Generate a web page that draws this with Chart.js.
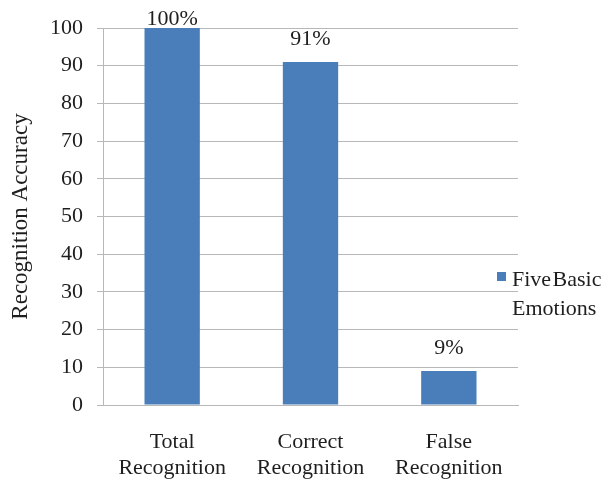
<!DOCTYPE html>
<html>
<head>
<meta charset="utf-8">
<script src="https://cdn.jsdelivr.net/npm/chart.js@4/dist/chart.umd.min.js"></script>
<style>
  html, body { margin: 0; padding: 0; background: #ffffff; }
  #wrap { width: 604px; height: 480px; }
</style>
</head>
<body>
<div id="wrap"><canvas id="chart" width="604" height="480"></canvas></div>
<script>
// Recognition results for the five basic emotions
const categories = [["Total", "Recognition"], ["Correct", "Recognition"], ["False", "Recognition"]];
const accuracy = [100, 91, 9];
const seriesName = "Five Basic Emotions";
const legendLines = ["Five Basic", "Emotions"];
const yTicks = [0, 10, 20, 30, 40, 50, 60, 70, 80, 90, 100];

const SERIF = "'Liberation Serif', 'Times New Roman', serif";
const BAR_BLUE = "#4a7ebb";
const GRID_GREY = "#b8b8b8";
const TEXT_DARK = "#1e1e1e";

// Percentage labels above each bar
const valueLabels = {
  id: "valueLabels",
  afterDatasetsDraw(chart) {
    const ctx = chart.ctx;
    const meta = chart.getDatasetMeta(0);
    ctx.save();
    ctx.font = "22px " + SERIF;
    ctx.fillStyle = TEXT_DARK;
    ctx.textAlign = "center";
    ctx.textBaseline = "alphabetic";
    meta.data.forEach((bar, i) => {
      const y = Math.max(bar.y - 17, 25);
      ctx.fillText(accuracy[i] + "%", bar.x, y);
    });
    ctx.restore();
  }
};

// Series key drawn to the right of the plot
const sideLegend = {
  id: "sideLegend",
  afterDraw(chart) {
    const ctx = chart.ctx;
    const area = chart.chartArea;
    const x0 = area.right - 21;
    ctx.save();
    ctx.fillStyle = BAR_BLUE;
    ctx.fillRect(x0, 272, 9, 9);
    ctx.font = "22px " + SERIF;
    ctx.fillStyle = TEXT_DARK;
    ctx.textAlign = "left";
    ctx.textBaseline = "alphabetic";
    if ("wordSpacing" in ctx) ctx.wordSpacing = "-4px";
    ctx.fillText(legendLines[0], x0 + 15, 286);
    ctx.fillText(legendLines[1], x0 + 15, 315);
    ctx.restore();
  }
};

new Chart(document.getElementById("chart"), {
  type: "bar",
  data: {
    labels: categories,
    datasets: [{
      label: seriesName,
      data: accuracy,
      backgroundColor: BAR_BLUE,
      borderWidth: 0,
      barPercentage: 0.4,
      categoryPercentage: 1.0
    }]
  },
  options: {
    responsive: false,
    animation: false,
    layout: { padding: { top: 28, right: 86, bottom: 0, left: 0 } },
    plugins: {
      legend: { display: false },
      tooltip: { enabled: false }
    },
    scales: {
      x: {
        grid: { display: false, drawTicks: false, tickLength: 0 },
        border: { display: true, color: GRID_GREY, width: 1 },
        ticks: {
          font: { family: SERIF, size: 22, lineHeight: 1.2 },
          color: TEXT_DARK,
          padding: 24,
          maxRotation: 0,
          autoSkip: false
        },
        afterFit(scale) { scale.height = 75; }
      },
      y: {
        min: 0,
        max: 100,
        afterBuildTicks(scale) { scale.ticks = yTicks.map(v => ({ value: v })); },
        grid: { color: GRID_GREY, lineWidth: 1, drawTicks: true, tickLength: 6, tickColor: GRID_GREY },
        border: { display: true, color: GRID_GREY, width: 1 },
        ticks: {
          font: { family: SERIF, size: 22 },
          color: TEXT_DARK,
          padding: 14
        },
        title: {
          display: true,
          text: "Recognition Accuracy",
          font: { family: SERIF, size: 23 },
          color: TEXT_DARK,
          padding: { top: 7, bottom: 0 }
        },
        afterFit(scale) { scale.width = 103; }
      }
    }
  },
  plugins: [valueLabels, sideLegend]
});
</script>
</body>
</html>
